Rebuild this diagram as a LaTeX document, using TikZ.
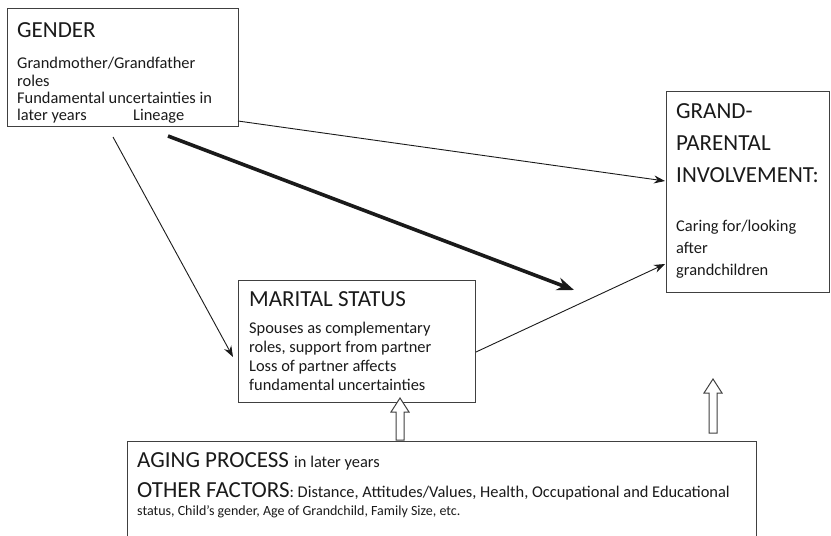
\documentclass[tikz,border=0pt]{standalone}
\usepackage{fontspec}
\setmainfont{Carlito}
\usetikzlibrary{arrows.meta}
\definecolor{ink}{HTML}{1A1A1A}
\definecolor{frame}{HTML}{404040}
\begin{document}
\begin{tikzpicture}[x=1pt,y=-1pt,
  box/.style={draw=frame, line width=1.1pt, inner sep=0pt, anchor=north west},
  ttl/.style={anchor=base west, inner sep=0pt, text=ink, font=\fontsize{23}{27}\selectfont},
  bdy/.style={anchor=base west, inner sep=0pt, text=ink, font=\fontsize{16.4}{19}\selectfont},
  sml/.style={anchor=base west, inner sep=0pt, text=ink, font=\fontsize{14}{17}\selectfont},
  conn/.style={draw=ink, line width=0.9pt, -{Stealth[length=11pt,width=8pt]}},
  thick conn/.style={draw=ink, line width=3.6pt, -{Stealth[length=17pt,width=13pt]}},
  blockarrow/.style={draw=frame, line width=1pt, fill=white}]
\useasboundingbox (0,0) rectangle (831,536);
\fill[white] (0,0) rectangle (831,536);

% boxes
\node[box, minimum width=231pt, minimum height=118pt] (gender) at (7,8) {};
\node[box, minimum width=163pt, minimum height=201pt] (grand) at (666,91) {};
\node[box, minimum width=237pt, minimum height=122pt] (marital) at (238,280) {};
\node[box, minimum width=629pt, minimum height=110pt] (aging) at (127,441) {};

% GENDER text
\node[ttl] (g0) at (17,37) {GENDER};
\node[bdy] (g1) at (17,68) {Grandmother/Grandfather};
\node[bdy] (g2) at (17,86) {roles};
\node[bdy] (g3) at (17,103) {Fundamental uncertainties in};
\node[bdy] (g4) at (17,120) {later years};
\node[bdy] (g5) at (133,120) {Lineage};

% GRANDPARENTAL text
\node[ttl] (p0) at (676,118) {GRAND-};
\node[ttl] (p1) at (676,150) {PARENTAL};
\node[ttl] (p2) at (676,182) {INVOLVEMENT:};
\node[bdy] (p3) at (676,231) {Caring for/looking};
\node[bdy] (p4) at (676,253) {after};
\node[bdy] (p5) at (676,275) {grandchildren};

% MARITAL text
\node[ttl] (m0) at (249,306) {MARITAL STATUS};
\node[bdy] (m1) at (249,333) {Spouses as complementary};
\node[bdy] (m2) at (249,352) {roles, support from partner};
\node[bdy] (m3) at (249,371) {Loss of partner affects};
\node[bdy] (m4) at (249,390) {fundamental uncertainties};

% AGING text
\node[ttl] (a0) at (137,467) {AGING PROCESS {\fontsize{16.4}{19}\selectfont in later years}};
\node[ttl] (a1) at (137,497) {OTHER FACTORS{\fontsize{16.4}{19}\selectfont: Distance, Attitudes/Values, Health, Occupational and Educational}};
\node[sml] (a2) at (137,515) {status, Child’s gender, Age of Grandchild, Family Size, etc.};

% connector end points
\coordinate (gA) at (238,121);
\coordinate (gB) at (113,137);
\coordinate (gC) at (168,136);
\coordinate (pA) at (665,181);
\coordinate (pB) at (665,264);
\coordinate (mA) at (233,357);
\coordinate (mB) at (476,352);
\coordinate (tC) at (574,290);

\draw[conn] (gA) -- (pA);
\draw[conn] (gB) -- (mA);
\draw[thick conn] (gC) -- (tC);
\draw[conn] (mB) -- (pB);

% block arrows from AGING box
\draw[blockarrow] (396,440) -- (396,412) -- (391,412) -- (400,398) -- (409,412) -- (404,412) -- (404,440) -- cycle;
\draw[blockarrow] (709,433) -- (709,393) -- (704,393) -- (713,379) -- (722,393) -- (717,393) -- (717,433) -- cycle;
\end{tikzpicture}
\end{document}
